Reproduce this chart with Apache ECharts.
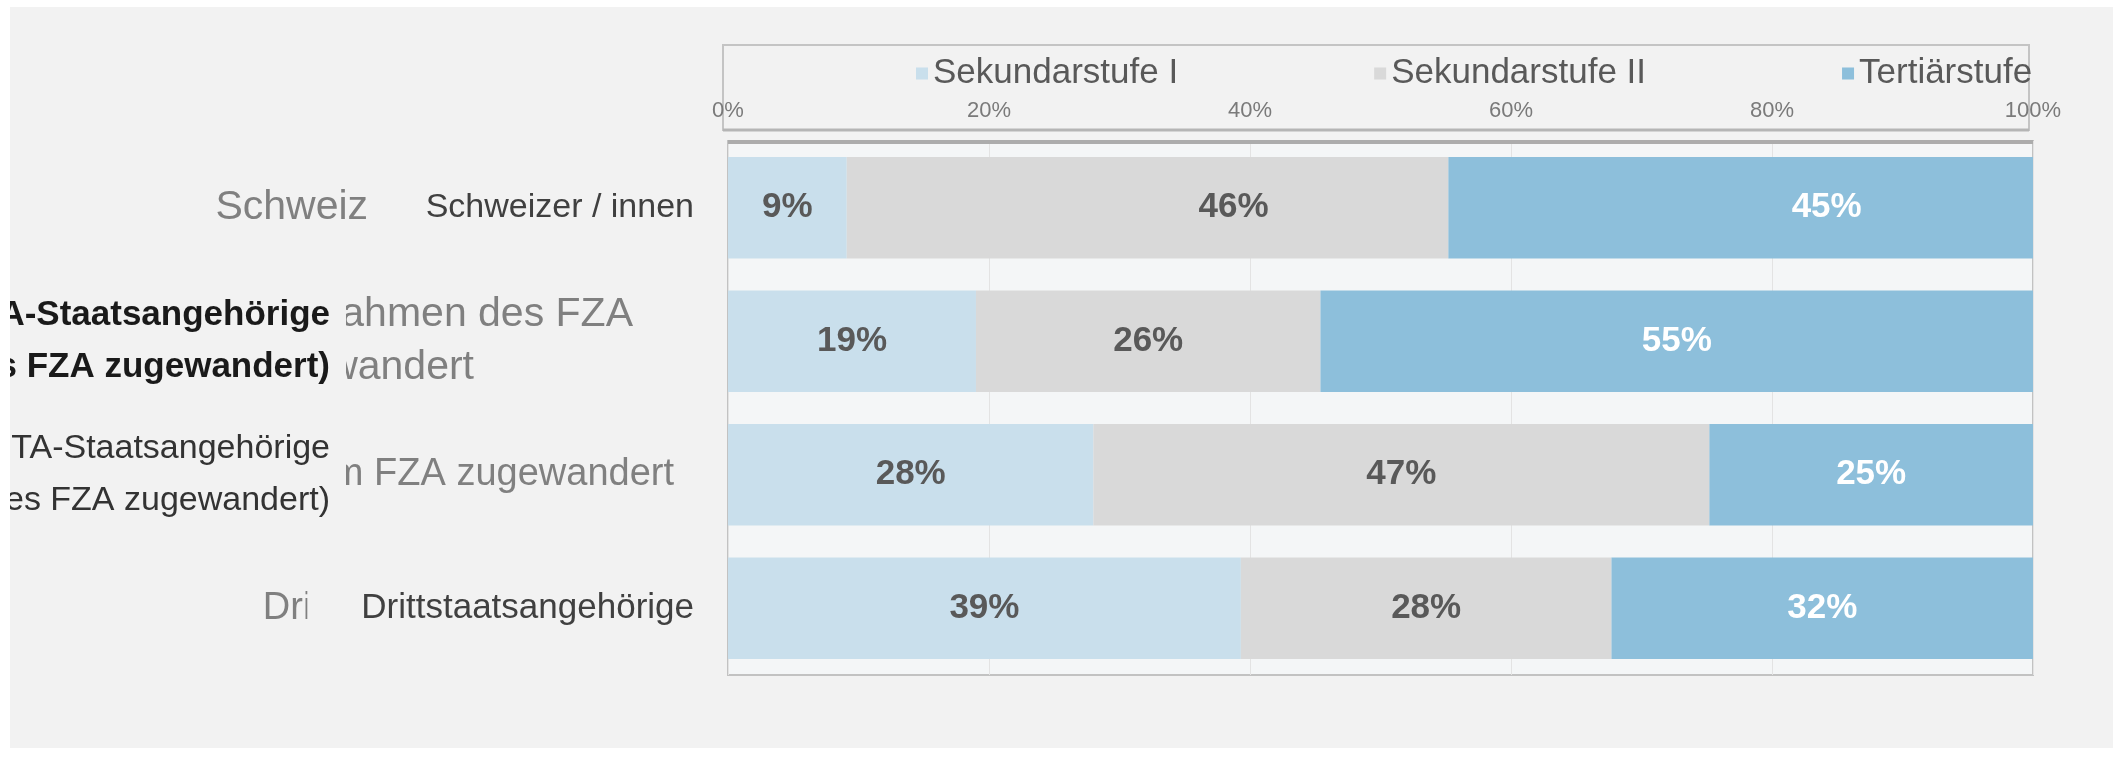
<!DOCTYPE html>
<html>
<head>
<meta charset="utf-8">
<script src="https://cdn.jsdelivr.net/npm/echarts@6/dist/echarts.min.js"></script>
<style>
  html, body { margin: 0; padding: 0; background: #ffffff; }
  #chart { position: absolute; left: 10px; top: 7px; width: 2103px; height: 741px; }
</style>
</head>
<body>
<div id="chart"></div>
<script>
// categories (top to bottom)
const categories = [
  'Schweizer / innen',
  'EU/EFTA-Staatsangehörige (im Rahmen des FZA zugewandert)',
  'EU/EFTA-Staatsangehörige (vor Inkrafttreten des FZA zugewandert)',
  'Drittstaatsangehörige'
]
// how the labels wrap
const labelLines = [
  ['Schweizer / innen'],
  ['EU/EFTA-Staatsangehörige', '(im Rahmen des FZA zugewandert)'],
  ['EU/EFTA-Staatsangehörige', '(vor Inkrafttreten des FZA zugewandert)'],
  ['Drittstaatsangehörige']
]
// the faded second copy of the labels behind them
const ghostLines = [
  ['Schweizer / innen'],
  ['EU/EFTA-Staatsangehörige (im Rahmen des FZA', 'zugewandert'],
  ['EU/EFTA-Staatsangehörige (vor dem FZA zugewandert'],
  ['Drittstaatsangehörige']
]
const seriesNames = ['Sekundarstufe I', 'Sekundarstufe II', 'Tertiärstufe']
const sek1 = [9.1, 19.0, 28.0, 39.3]
const sek2 = [46.1, 26.4, 47.2, 28.4]
const tert = [44.8, 54.6, 24.8, 32.3]
const xTicks = [0, 20, 40, 60, 80, 100]

const font = '"Liberation Sans", Arial, sans-serif'
const bg = '#F2F2F2'
const colors = ['#C9DFEC', '#D9D9D9', '#8DBFDB']
const labelColors = ['#595959', '#595959', '#FFFFFF']
// ghost label look per row: rich style and spacer widths (one per line)
const ghostStyle = ['g', 'g', 'gs', 'gs']
const ghostSpacer = [[171], [77, 236], [36], [86]]
const darkStyle = ['d', 'b', 'r', 'd4']
const row1Shift = 86 // labels of first row sit off-center in the original

const chart = echarts.init(document.getElementById('chart'))

const ghostRich = {
  g: { fontFamily: font, fontSize: 41, color: '#808080', lineHeight: 53 },
  gs: { fontFamily: font, fontSize: 38, color: '#808080', lineHeight: 53 }
}
ghostSpacer.forEach(function (arr) {
  arr.forEach(function (w) { ghostRich['w' + w] = { width: w, height: 10 } })
})

function darkLabel(value, index) {
  const st = darkStyle[index]
  const lines = labelLines[index]
  if (lines.length === 1) return '{' + st + '|' + lines[0] + '}'
  return lines.map(function (l) { return '{' + st + '|' + l + '}{sp|}' }).join('\n')
}

function ghostLabel(value, index) {
  return ghostLines[index].map(function (l, i) {
    return '{' + ghostStyle[index] + '|' + l + '}{w' + ghostSpacer[index][i] + '|}'
  }).join('\n')
}

function makeData(values, si) {
  return values.map(function (v, i) {
    const item = { value: v }
    if (i === 0 && si > 0) item.label = { offset: [row1Shift, 0] }
    return item
  })
}

const option = {
  backgroundColor: bg,
  animation: false,
  color: colors,
  legend: {
    data: seriesNames,
    left: 901,
    top: 44,
    icon: 'rect',
    itemWidth: 12,
    itemHeight: 12,
    itemGap: 196,
    selectedMode: false,
    textStyle: { fontFamily: font, fontSize: 35, color: '#595959' }
  },
  grid: {
    left: 718,
    right: 80,
    top: 134,
    bottom: 73,
    outerBoundsMode: 'none',
    containLabel: false,
    show: true,
    borderColor: '#C2C2C2',
    borderWidth: 2,
    backgroundColor: '#F4F6F7'
  },
  graphic: [{
    type: 'rect',
    shape: { x: 713, y: 38, width: 1306, height: 85 },
    style: { fill: 'none', stroke: '#C4C4C4', lineWidth: 2 },
    z: 0
  }, {
    type: 'line',
    shape: { x1: 713, y1: 123, x2: 2019, y2: 123 },
    style: { stroke: '#B5B5B5', lineWidth: 3 },
    z: 0
  }, {
    type: 'line',
    shape: { x1: 718, y1: 135, x2: 2023, y2: 135 },
    style: { stroke: '#ACACAC', lineWidth: 4 },
    z: 10
  }],
  xAxis: {
    type: 'value',
    position: 'top',
    min: xTicks[0],
    max: xTicks[xTicks.length - 1],
    interval: xTicks[1] - xTicks[0],
    axisLine: { show: false },
    axisTick: { show: false },
    splitLine: { show: true, lineStyle: { color: '#E3E3E3', width: 1 } },
    axisLabel: {
      formatter: '{value}%',
      margin: 19,
      fontFamily: font,
      fontSize: 22,
      color: '#7A7A7A'
    }
  },
  yAxis: [{
    type: 'category',
    inverse: true,
    data: categories,
    z: 5,
    axisLine: { show: false },
    axisTick: { show: false },
    axisLabel: {
      interval: 0,
      margin: 34,
      formatter: darkLabel,
      rich: {
        d: { fontFamily: font, fontSize: 34, color: '#404040', backgroundColor: bg, padding: [6, 0, 6, 58], lineHeight: 46 },
        d4: { fontFamily: font, fontSize: 35, color: '#404040', backgroundColor: bg, padding: [6, 0, 6, 54], lineHeight: 46 },
        b: { fontFamily: font, fontSize: 35, fontWeight: 'bold', color: '#1A1A1A', backgroundColor: bg, padding: [0, 16, 0, 600], height: 58, lineHeight: 52 },
        r: { fontFamily: font, fontSize: 34, color: '#333333', backgroundColor: bg, padding: [0, 16, 0, 600], height: 58, lineHeight: 52 },
        sp: { width: 348, height: 10 }
      }
    }
  }, {
    type: 'category',
    inverse: true,
    data: categories,
    position: 'left',
    z: 1,
    axisLine: { show: false },
    axisTick: { show: false },
    axisLabel: {
      interval: 0,
      margin: 18,
      formatter: ghostLabel,
      rich: ghostRich
    }
  }],
  series: [sek1, sek2, tert].map(function (vals, si) {
    return {
      name: seriesNames[si],
      type: 'bar',
      stack: 'total',
      yAxisIndex: 0,
      barCategoryGap: '24%',
      data: makeData(vals, si),
      itemStyle: { color: colors[si] },
      label: {
        show: true,
        position: 'inside',
        formatter: function (p) { return Math.round(p.value) + '%' },
        fontFamily: font,
        fontSize: 35,
        fontWeight: 'bold',
        color: labelColors[si]
      }
    }
  })
}

chart.setOption(option)
</script>
</body>
</html>
